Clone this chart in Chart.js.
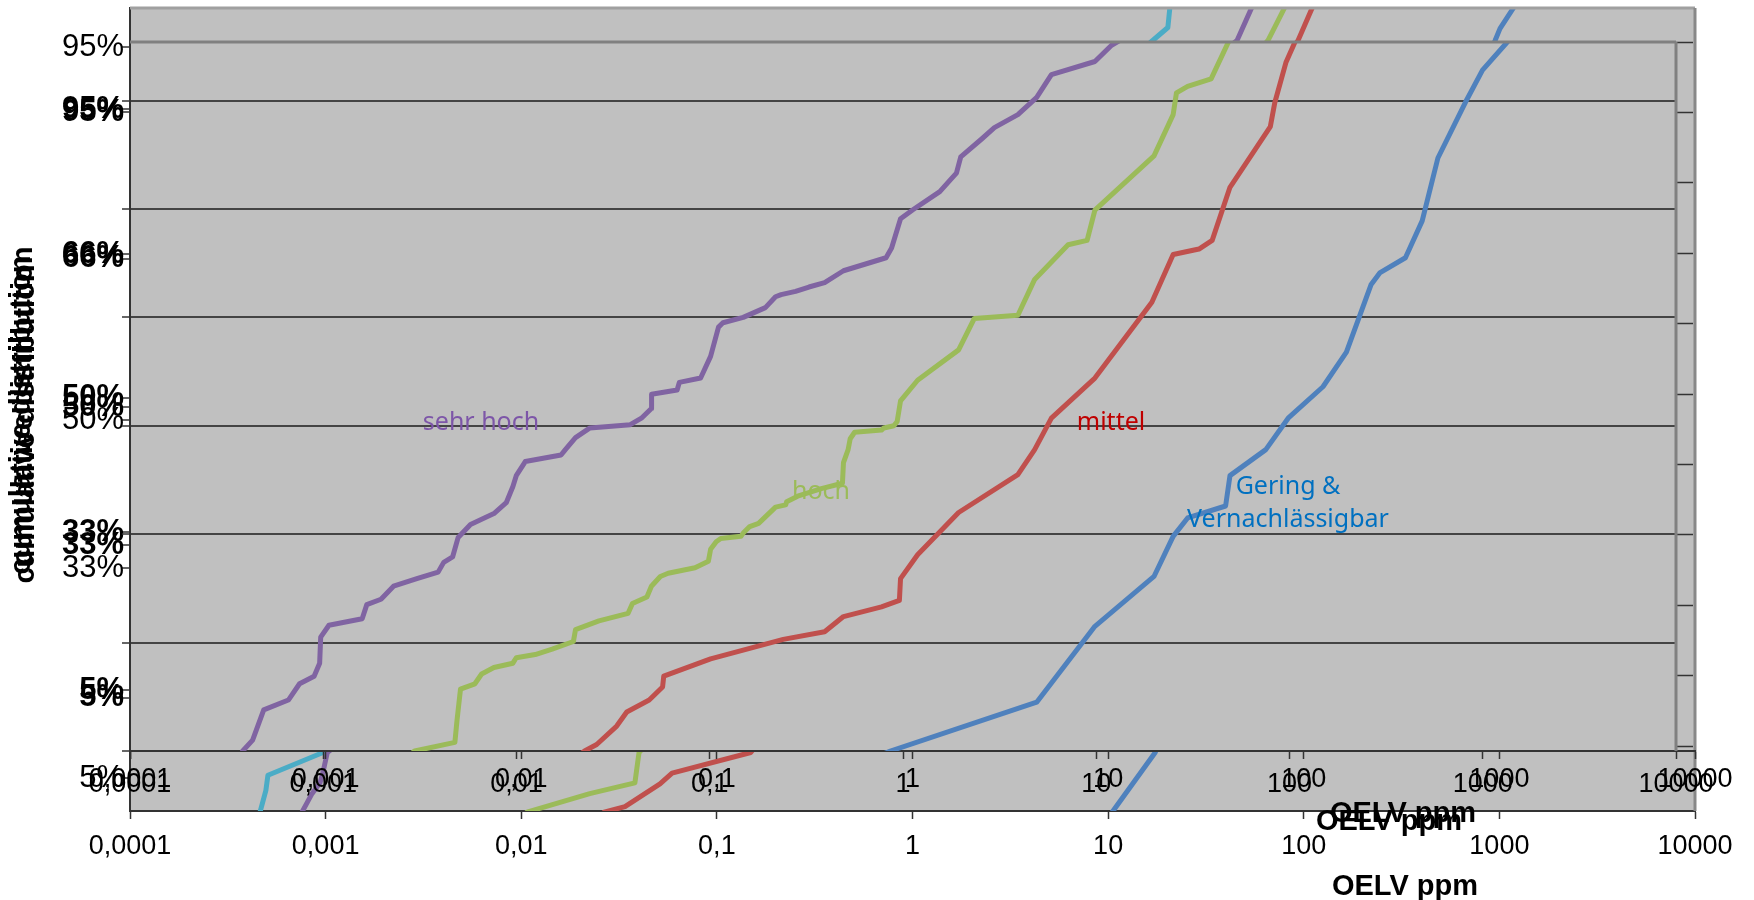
<!DOCTYPE html>
<html>
<head>
<meta charset="utf-8">
<title>OELV ppm - cumulative distribution</title>
<script src="https://cdn.jsdelivr.net/npm/chart.js@4.4.1/dist/chart.umd.min.js"></script>
<style>
  html, body { margin: 0; padding: 0; background: #fff; }
  #stage { position: relative; width: 1754px; height: 900px; }
  #stage canvas { position: absolute; left: 0; top: 0; }
</style>
</head>
<body>
<div id="stage">
  <canvas id="backChart" width="1754" height="900"></canvas>
  <canvas id="midChart" width="1754" height="900"></canvas>
  <canvas id="frontChart" width="1754" height="900"></canvas>
</div>
<script>
// x: OELV in ppm (log), y: Probit-Einheiten, Gitterlinien bei ganzen Zahlen
const decades = [0.0001, 0.001, 0.01, 0.1, 1, 10, 100, 1000, 10000];
const gridRows = [-3, -2, -1, 0, 1, 2, 3];
const rightTicks = [0, 0.1, 0.2, 0.3, 0.4, 0.5, 0.6, 0.7, 0.8, 0.9, 1];

// Prozent-Beschriftungen der drei übereinanderliegenden Diagrammebenen
const frontLabels = ['95%', '66%', '50%', '33%', '5%'];
const frontLabelPos = [2.89, 1.58, 0.17, -1.10, -2.51];
const midLabelPos = [2.92, 1.54, 0.26, -0.98, -2.44];
const backLabels = ['95%', '50%', '33%', '5%'];
const backLabelPos = [3.50, 0.055, -1.31, -3.25];

// sehr hoch
const sehrHochX = [0.000363, 0.000383, 0.000431, 0.000492, 0.00066, 0.000754, 0.000897, 0.000958, 0.00097, 0.00107,
  0.00159, 0.00168, 0.00199, 0.00231, 0.00305, 0.00393, 0.0042, 0.00467, 0.00499, 0.00578,
  0.00764, 0.00885, 0.00958, 0.00997, 0.0111, 0.017, 0.0179, 0.0202, 0.024, 0.0388,
  0.0443, 0.0499, 0.05, 0.0678, 0.0696, 0.0897, 0.101, 0.111, 0.117, 0.149,
  0.194, 0.219, 0.234, 0.278, 0.326, 0.393, 0.492, 0.817, 0.873, 0.971,
  1.12, 1.55, 1.72, 1.89, 1.99, 2.57, 2.97, 3.93, 4.92, 5.86,
  9.84, 12.0, 13.4, 16.8];
const sehrHochY = [-3.08, -3.00, -2.90, -2.62, -2.53, -2.38, -2.31, -2.19, -1.95, -1.84,
  -1.78, -1.65, -1.60, -1.48, -1.41, -1.35, -1.26, -1.21, -1.03, -0.91,
  -0.81, -0.71, -0.56, -0.46, -0.33, -0.27, -0.22, -0.11, -0.02, 0.01,
  0.07, 0.16, 0.29, 0.33, 0.40, 0.44, 0.64, 0.91, 0.95, 1.00,
  1.09, 1.19, 1.21, 1.24, 1.28, 1.32, 1.43, 1.55, 1.64, 1.91,
  1.99, 2.16, 2.25, 2.33, 2.48, 2.65, 2.75, 2.87, 3.03, 3.24,
  3.36, 3.51, 3.56, 3.72];

// hoch
const hochX = [0.00264, 0.00297, 0.0048, 0.00492, 0.00513, 0.00609, 0.0066, 0.00764, 0.00958, 0.00997,
  0.0125, 0.0153, 0.0197, 0.0202, 0.0267, 0.0378, 0.0398, 0.0473, 0.0499, 0.0555,
  0.0609, 0.0839, 0.0984, 0.101, 0.108, 0.114, 0.145, 0.149, 0.161, 0.179,
  0.219, 0.247, 0.25, 0.285, 0.378, 0.486, 0.492, 0.52, 0.533, 0.562,
  0.774, 0.796, 0.897, 0.933, 0.971, 1.19, 1.94, 2.34, 3.93, 4.80,
  7.15, 8.97, 9.84, 19.9, 25.0, 26.0, 29.7, 39.3, 48.6, 52.6];
const hochY = [-3.08, -3.00, -2.92, -2.72, -2.43, -2.38, -2.29, -2.23, -2.19, -2.14,
  -2.11, -2.06, -1.99, -1.88, -1.80, -1.73, -1.64, -1.58, -1.48, -1.39,
  -1.36, -1.31, -1.25, -1.14, -1.07, -1.04, -1.02, -0.99, -0.93, -0.90,
  -0.75, -0.73, -0.70, -0.65, -0.58, -0.53, -0.34, -0.22, -0.12, -0.06,
  -0.04, -0.02, 0.00, 0.04, 0.23, 0.42, 0.70, 0.99, 1.02, 1.35,
  1.67, 1.71, 1.99, 2.49, 2.87, 3.07, 3.13, 3.20, 3.55, 3.70];

// mittel
const mittelX = [0.021, 0.0225, 0.026, 0.033, 0.0372, 0.0486, 0.057, 0.0578, 0.101, 0.24,
  0.393, 0.492, 0.774, 0.958, 0.971, 1.19, 1.94, 3.93, 4.80, 5.86,
  9.84, 19.4, 25.0, 34.0, 39.8, 49.2, 79.6, 83.9, 95.8, 108, 115];
const mittelY = [-3.04, -3.00, -2.94, -2.77, -2.64, -2.53, -2.41, -2.31, -2.15, -1.97,
  -1.90, -1.76, -1.67, -1.61, -1.41, -1.19, -0.80, -0.45, -0.22, 0.07,
  0.44, 1.14, 1.58, 1.63, 1.71, 2.20, 2.76, 2.98, 3.35, 3.56, 3.67];

// Gering & Vernachlässigbar
const geringX = [0.785, 0.861, 4.92, 9.84, 19.9, 25.0, 29.7, 46.7, 49.2, 75.4,
  98.4, 149, 197, 264, 293, 398, 486, 586, 828, 997, 1340, 1470];
const geringY = [-3.03, -3.00, -2.55, -1.85, -1.39, -1.02, -0.85, -0.74, -0.46, -0.22,
  0.07, 0.36, 0.68, 1.30, 1.41, 1.55, 1.89, 2.47, 3.01, 3.28, 3.54, 3.64];

// hintere Ebene: nur in den Randstreifen sichtbare Linienstücke
const ghostCyanX = [0.000456, 0.000462, 0.000495, 0.000507, 0.00097, 16.9, 20.2, 20.7, 20.9];
const ghostCyanY = [-3.62, -3.56, -3.36, -3.22, -3.01, 3.56, 3.68, 3.87, 3.91];
const ghostPurpleX = [0.000739, 0.000757, 0.000852, 0.000936, 0.00097, 0.00102, 45.6, 54.4, 55.7];
const ghostPurpleY = [-3.62, -3.56, -3.39, -3.29, -3.19, -3.01, 3.56, 3.87, 3.91];
const ghostGreenX = [0.00986, 0.0107, 0.0224, 0.0381, 0.04, 65.6, 80.2, 82.0];
const ghostGreenY = [-3.62, -3.56, -3.39, -3.29, -3.01, 3.56, 3.87, 3.91];
const ghostRedX = [0.0247, 0.0265, 0.0339, 0.0512, 0.059, 0.149, 93.5, 111, 114];
const ghostRedY = [-3.62, -3.56, -3.51, -3.30, -3.20, -3.01, 3.56, 3.87, 3.91];
const ghostBlueX = [10.1, 10.5, 17.4, 951, 1007, 1189, 1230];
const ghostBlueY = [-3.62, -3.56, -3.01, 3.56, 3.67, 3.87, 3.91];

const SANS = '"Liberation Sans", Arial, sans-serif';
const NOTE = '"Noto Sans", "Open Sans", sans-serif';
const GRAY = '#c0c0c0';
const PURPLE = '#8064a2', GREEN = '#9bbb59', RED = '#c0504d', BLUE = '#4f81bd', CYAN = '#4bacc6';
const TITLE_FONT = 'bold 29px ' + SANS;

Chart.defaults.font.family = SANS;
Chart.defaults.color = '#000';

const fmt = v => String(v).replace('.', ',');
const pts = (xs, ys) => xs.map((x, i) => ({ x: x, y: ys[i] }));

function lineSet(label, xs, ys, color) {
    return {
        label: label,
        data: pts(xs, ys),
        borderColor: color,
        borderWidth: 5,
        borderJoinStyle: 'round',
        pointRadius: 0,
        tension: 0,
        fill: false,
        clip: 0,
    };
}

// grauer Plotbereich + Rahmenkanten oben/rechts
function makeFrame(fill, edges) {
    return {
        id: 'plotFrame',
        beforeDraw(chart) {
            if (!fill) return;
            const a = chart.chartArea, ctx = chart.ctx;
            ctx.save();
            ctx.fillStyle = fill;
            ctx.fillRect(a.left, a.top, a.right - a.left, a.bottom - a.top);
            ctx.restore();
        },
        afterDatasetsDraw(chart) {
            const a = chart.chartArea, ctx = chart.ctx;
            edges.forEach(e => {
                ctx.save();
                ctx.strokeStyle = e.color;
                ctx.lineWidth = e.width;
                ctx.beginPath();
                if (e.side === 'top') { ctx.moveTo(a.left, a.top); ctx.lineTo(a.right, a.top); }
                if (e.side === 'right') { ctx.moveTo(a.right, a.top); ctx.lineTo(a.right, a.bottom); }
                ctx.stroke();
                ctx.restore();
            });
        }
    };
}

// Achsentitel und Kurvenbeschriftungen
function makeText(items) {
    return {
        id: 'textLayer',
        afterDraw(chart) {
            const ctx = chart.ctx;
            items.forEach(t => {
                ctx.save();
                ctx.font = t.font;
                ctx.fillStyle = t.color || '#000';
                ctx.textAlign = 'center';
                ctx.textBaseline = 'middle';
                ctx.translate(t.x, t.y);
                if (t.rotate) ctx.rotate(t.rotate);
                ctx.fillText(t.text, 0, 0);
                ctx.restore();
            });
        }
    };
}

function xAxis(height, labelPad) {
    return {
        type: 'logarithmic', min: 0.0001, max: 10000,
        afterBuildTicks: s => { s.ticks = decades.map(v => ({ value: v })); },
        afterFit: s => { s.height = height; s.paddingLeft = 0; s.paddingRight = 0; },
        grid: { drawOnChartArea: false, tickLength: 8, tickColor: '#333', tickWidth: 1.5 },
        border: { color: '#333', width: 2 },
        ticks: { autoSkip: false, maxRotation: 0, padding: labelPad, font: { size: 27 }, callback: v => fmt(v) },
    };
}

function yAxis(min, max, labelPos, labels, bold, gridVals) {
    const tickVals = gridVals.concat(labelPos).sort((a, b) => a - b);
    return {
        type: 'linear', min: min, max: max,
        afterBuildTicks: s => { s.ticks = tickVals.map(v => ({ value: v })); },
        afterFit: s => { s.width = 130; s.paddingTop = 0; s.paddingBottom = 0; },
        grid: {
            color: c => (c.tick && gridVals.includes(c.tick.value)) ? '#444' : 'rgba(0,0,0,0)',
            lineWidth: 2, tickLength: 8, tickColor: '#333', tickWidth: 1.5,
        },
        border: { color: '#333', width: 2 },
        ticks: {
            autoSkip: false, padding: -2,
            font: { size: 31, weight: bold ? 'bold' : 'normal' },
            callback: v => { const i = labelPos.indexOf(v); return i < 0 ? '' : labels[i]; },
        },
    };
}

const baseOptions = {
    responsive: false,
    animation: false,
    devicePixelRatio: 1,
    plugins: { legend: { display: false }, tooltip: { enabled: false } },
};

// hintere Ebene
new Chart(document.getElementById('backChart'), {
    type: 'line',
    data: {
        datasets: [
            lineSet('Gering & Vernachlässigbar', ghostBlueX, ghostBlueY, BLUE),
            lineSet('mittel', ghostRedX, ghostRedY, RED),
            lineSet('hoch', ghostGreenX, ghostGreenY, GREEN),
            lineSet('sehr hoch', ghostPurpleX, ghostPurpleY, PURPLE),
            lineSet('', ghostCyanX, ghostCyanY, CYAN),
        ],
    },
    options: Object.assign({}, baseOptions, {
        layout: { padding: { left: 0, top: 8, right: 59, bottom: 0 } },
        scales: { x: xAxis(89, 11), y: yAxis(-3.55, 3.86, backLabelPos, backLabels, false, []) },
    }),
    plugins: [
        makeFrame(GRAY, [{ side: 'top', color: '#a0a0a0', width: 3 }, { side: 'right', color: '#888', width: 3 }]),
        makeText([
            { text: 'OELV ppm', x: 1405, y: 887, font: TITLE_FONT },
            { text: 'cumulative distribution', x: 26, y: 424, rotate: -Math.PI / 2, font: TITLE_FONT },
        ]),
    ],
});

// mittlere Ebene: nur Achsen
new Chart(document.getElementById('midChart'), {
    type: 'line',
    data: { datasets: [] },
    options: Object.assign({}, baseOptions, {
        layout: { padding: { left: 0, top: 42, right: 59, bottom: 0 } },
        scales: { x: xAxis(149, 4), y: yAxis(-3, 3.54, midLabelPos, frontLabels, true, []) },
    }),
    plugins: [
        makeText([
            { text: 'OELV ppm', x: 1403, y: 814, font: TITLE_FONT },
            { text: 'cumulative distribution', x: 22, y: 415, rotate: -Math.PI / 2, font: TITLE_FONT },
        ]),
    ],
});

// vordere Ebene
const frontY2 = {
    type: 'linear', position: 'right', min: -0.007, max: 1,
    afterBuildTicks: s => { s.ticks = rightTicks.map(v => ({ value: v })); },
    afterFit: s => { s.width = 17; s.paddingTop = 0; s.paddingBottom = 0; },
    grid: { drawOnChartArea: false, tickLength: 17, tickColor: '#333', tickWidth: 1.5 },
    border: { display: false },
    ticks: { display: false },
};

new Chart(document.getElementById('frontChart'), {
    type: 'line',
    data: {
        datasets: [
            lineSet('Gering & Vernachlässigbar', geringX, geringY, BLUE),
            lineSet('mittel', mittelX, mittelY, RED),
            lineSet('hoch', hochX, hochY, GREEN),
            lineSet('sehr hoch', sehrHochX, sehrHochY, PURPLE),
        ],
    },
    options: Object.assign({}, baseOptions, {
        layout: { padding: { left: 0, top: 42, right: 61, bottom: 0 } },
        scales: {
            x: xAxis(149, 9),
            y: yAxis(-3, 3.54, frontLabelPos, frontLabels, true, gridRows),
            y2: frontY2,
        },
    }),
    plugins: [
        makeFrame(GRAY, [{ side: 'top', color: '#808080', width: 3 }, { side: 'right', color: '#808080', width: 3 }]),
        makeText([
            { text: 'OELV ppm', x: 1389, y: 822, font: TITLE_FONT },
            { text: 'cumulative distribution', x: 24, y: 406, rotate: -Math.PI / 2, font: TITLE_FONT },
            { text: 'sehr hoch', x: 481, y: 423, color: '#7d56a8', font: '25px ' + NOTE },
            { text: 'hoch', x: 821, y: 492, color: GREEN, font: '25px ' + NOTE },
            { text: 'mittel', x: 1111, y: 423, color: '#c00000', font: '25px ' + NOTE },
            { text: 'Gering &', x: 1288, y: 487, color: '#0070c0', font: '25px ' + NOTE },
            { text: 'Vernachlässigbar', x: 1288, y: 520, color: '#0070c0', font: '25px ' + NOTE },
        ]),
    ],
});
</script>
</body>
</html>
